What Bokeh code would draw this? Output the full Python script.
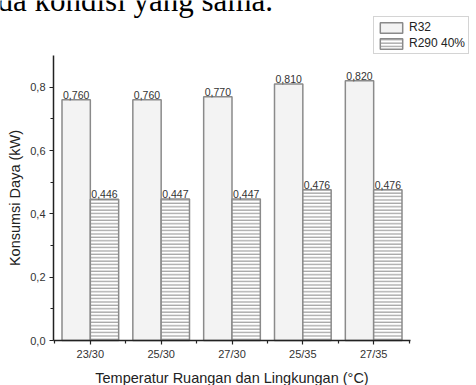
from bokeh.plotting import figure
from bokeh.models import (ColumnDataSource, Range1d, FixedTicker, CustomJSTickFormatter,
                          Legend, LegendItem, Label)
from bokeh.transform import dodge
from bokeh.core.properties import value
from bokeh.embed import file_html
from bokeh.resources import INLINE

# ---- data ----
categories = ["23/30", "25/30", "27/30", "25/35", "27/35"]
r32 = [0.760, 0.760, 0.770, 0.810, 0.820]
r290 = [0.446, 0.447, 0.447, 0.476, 0.476]
series_names = ["R32", "R290 40%"]
y_ticks = [0.0, 0.2, 0.4, 0.6, 0.8]
y_minor = [0.1, 0.3, 0.5, 0.7]
page_text = "da kondisi yang sama."

# ---- layout constants (pixels inside the canvas) ----
W, H = 476, 385
AX_LEFT, AX_RIGHT = 53, 410      # x pixel of x-axis start / end
AX_TOP, AX_BOTTOM = 55, 340      # y pixel (from top) of y-axis top / bottom
X0, X1 = 0.48, 5.52              # data extent of the x axis
Y0, Y1 = 0.0, 0.9                # data extent of the y axis

kx = (AX_RIGHT - AX_LEFT) / (X1 - X0)
ky = (AX_BOTTOM - AX_TOP) / (Y1 - Y0)
x_range = Range1d(X0 - AX_LEFT / kx, X1 + (W - AX_RIGHT) / kx)
y_range = Range1d(Y0 - (H - AX_BOTTOM) / ky, Y1 + AX_TOP / ky)

xpos = list(range(1, len(categories) + 1))
src = ColumnDataSource(dict(
    x=xpos,
    r32=r32,
    r290=r290,
    r32_lbl=[f"{v:.3f}".replace(".", ",") for v in r32],
    r290_lbl=[f"{v:.3f}".replace(".", ",") for v in r290],
))

FONT = "Liberation Sans"

p = figure(width=W, height=H, output_backend="svg", toolbar_location=None,
           x_range=x_range, y_range=y_range, min_border=0)
p.outline_line_color = None
p.xgrid.visible = False
p.ygrid.visible = False
p.background_fill_color = "white"

bar_line = "#8a8a8a"
g1 = p.vbar(x=dodge("x", -0.2, range=p.x_range), top="r32", width=0.4, source=src,
            fill_color="#f3f3f3", line_color=bar_line, line_width=1.5)
g2 = p.vbar(x=dodge("x", 0.2, range=p.x_range), top="r290", width=0.4, source=src,
            fill_color="white", line_color=bar_line, line_width=1.5,
            hatch_pattern="horizontal_line", hatch_color="#8a8a8a",
            hatch_scale=3.4, hatch_weight=1)

p.text(x=dodge("x", -0.2, range=p.x_range), y="r32", text="r32_lbl", source=src,
       text_align="center", text_baseline="bottom", y_offset=-1,
       text_font=value(FONT), text_font_size="10.5px", text_color="#333333")
p.text(x=dodge("x", 0.2, range=p.x_range), y="r290", text="r290_lbl", source=src,
       text_align="center", text_baseline="bottom", y_offset=-1,
       text_font=value(FONT), text_font_size="10.5px", text_color="#333333")

# axes (drawn at fixed data positions so that they take no border space)
p.xaxis.fixed_location = Y0
p.yaxis.fixed_location = X0
p.xaxis.bounds = (X0, X1)
p.yaxis.bounds = (Y0, Y1)
p.xaxis.ticker = FixedTicker(ticks=xpos, minor_ticks=[i + 0.5 for i in range(0, len(categories) + 1)])
p.xaxis.major_label_overrides = {x: c for x, c in zip(xpos, categories)}
p.yaxis.ticker = FixedTicker(ticks=y_ticks, minor_ticks=y_minor)
p.yaxis.formatter = CustomJSTickFormatter(code="return tick.toFixed(1).replace('.', ',')")

for ax in (p.xaxis[0], p.yaxis[0]):
    ax.axis_line_color = "#222222"
    ax.axis_line_width = 1.5
    ax.major_tick_line_color = "#222222"
    ax.minor_tick_line_color = "#222222"
    ax.major_tick_line_width = 1.2
    ax.minor_tick_line_width = 1.2
    ax.major_tick_in = 0
    ax.major_tick_out = 4
    ax.minor_tick_in = 0
    ax.minor_tick_out = 3
    ax.major_label_text_font = FONT
    ax.major_label_text_font_size = "11px"
    ax.major_label_text_color = "#333333"
    ax.axis_label_text_font = FONT
    ax.axis_label_text_font_size = "14.5px"
    ax.axis_label_text_font_style = "normal"
    ax.axis_label_text_color = "#222222"

p.xaxis.axis_label = "Temperatur Ruangan dan Lingkungan (°C)"
p.yaxis.axis_label = "Konsumsi Daya (kW)"
p.xaxis.major_label_standoff = 3
p.xaxis.axis_label_standoff = 7
p.yaxis.major_label_standoff = 4
p.yaxis.axis_label_standoff = 4

legend = Legend(items=[LegendItem(label=series_names[0], renderers=[g1]),
                       LegendItem(label=series_names[1], renderers=[g2])],
                location=(373, H - 54),
                glyph_width=28, glyph_height=13, label_height=13,
                padding=3, spacing=2, margin=0, label_standoff=4,
                border_line_color="#aaaaaa", border_line_width=1,
                background_fill_color="white", background_fill_alpha=1,
                label_text_font=FONT, label_text_font_size="12px",
                label_text_color="#222222")
p.add_layout(legend, "center")

# clipped line of document text above the chart
p.add_layout(Label(x=-3, y=H, x_units="screen", y_units="screen",
                   text=page_text, text_font="Liberation Serif",
                   text_font_size="31px", text_baseline="alphabetic", text_color="black"))

open("out.html", "w").write(file_html(p, INLINE))
